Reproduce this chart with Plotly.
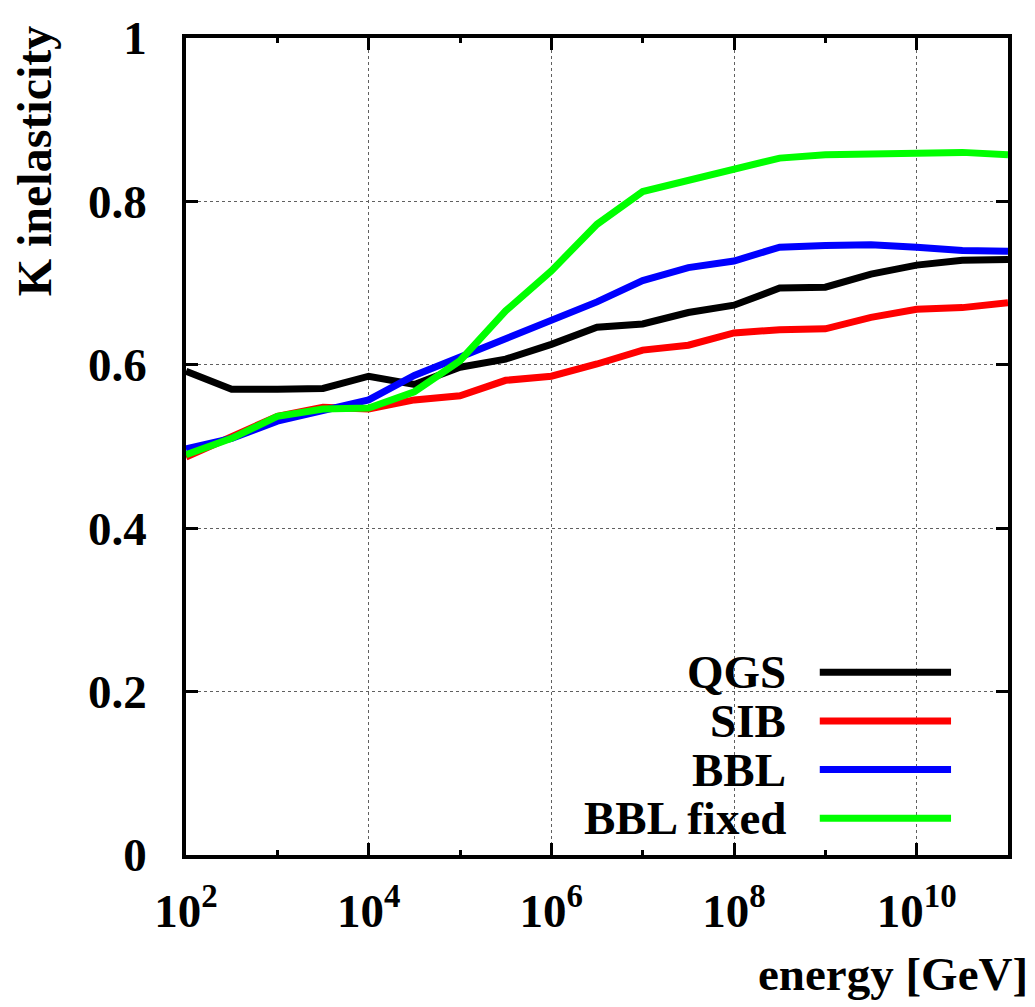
import plotly.graph_objects as go

# energies in GeV (half-decade steps)
log_energy = [2.0, 2.5, 3.0, 3.5, 4.0, 4.5, 5.0, 5.5, 6.0, 6.5, 7.0, 7.5, 8.0, 8.5, 9.0, 9.5, 10.0, 10.5, 11.0]
energy = [10 ** e for e in log_energy]

qgs = [0.592, 0.570, 0.570, 0.571, 0.586, 0.576, 0.597, 0.607, 0.625, 0.646, 0.650, 0.664, 0.673, 0.694, 0.695, 0.711, 0.722, 0.728, 0.729]
sib = [0.487, 0.512, 0.537, 0.548, 0.546, 0.557, 0.562, 0.581, 0.586, 0.601, 0.618, 0.624, 0.639, 0.643, 0.644, 0.658, 0.668, 0.670, 0.676]
bbl = [0.497, 0.510, 0.531, 0.543, 0.557, 0.587, 0.610, 0.632, 0.654, 0.677, 0.703, 0.719, 0.727, 0.744, 0.746, 0.747, 0.744, 0.740, 0.739]
bbl_fixed = [0.490, 0.510, 0.537, 0.546, 0.547, 0.567, 0.605, 0.666, 0.715, 0.772, 0.812, 0.826, 0.841, 0.853, 0.857, 0.858, 0.858, 0.860, 0.857]

series_names = ["QGS", "SIB", "BBL", "BBL fixed"]
series_values = [qgs, sib, bbl, bbl_fixed]
series_colors = ["#000000", "#ff0000", "#0000ff", "#00ff00"]

x_major_ticks = [1e2, 1e4, 1e6, 1e8, 1e10]
x_major_labels = ["10<sup>2</sup>", "10<sup>4</sup>", "10<sup>6</sup>", "10<sup>8</sup>", "10<sup>10</sup>"]
x_minor_ticks = [1e3, 1e5, 1e7, 1e9, 1e11]
y_ticks = [0, 0.2, 0.4, 0.6, 0.8, 1]
y_labels = ["0", "0.2", "0.4", "0.6", "0.8", "1"]

FONT = "Liberation Serif"
LW = 7

fig = go.Figure()
for name, vals, col in zip(series_names, series_values, series_colors):
    fig.add_trace(go.Scatter(x=energy, y=vals, mode="lines", name=name,
                             line=dict(color=col, width=LW), showlegend=False))

# legend box (white, hides grid)
fig.add_shape(type="rect", xref="paper", yref="paper", x0=0.411, x1=0.968, y0=0.0, y1=0.2515,
              fillcolor="white", line=dict(width=0), layer="between")

leg_y = [0.2236, 0.164, 0.1045, 0.045]
for name, col, yy in zip(series_names, series_colors, leg_y):
    fig.add_annotation(xref="paper", yref="paper", x=0.7324, y=yy, xanchor="right", yanchor="middle",
                       text=f"<b>{name}</b>", showarrow=False,
                       font=dict(family=FONT, size=47, color="black"))
    fig.add_shape(type="line", xref="paper", yref="paper", x0=0.771, x1=0.9307, y0=yy, y1=yy,
                  line=dict(color=col, width=LW), layer="above")

axis_common = dict(showline=True, linecolor="black", linewidth=3.5, mirror="ticks",
                   ticks="inside", tickcolor="black",
                   showgrid=True, gridcolor="#606060", gridwidth=1, griddash="dot",
                   zeroline=False,
                   tickfont=dict(family=FONT, size=47, color="black"))

fig.update_xaxes(type="log", range=[2, 11], tickvals=x_major_ticks,
                 ticktext=[f"<b>{t}</b>" for t in x_major_labels],
                 ticklen=12, tickwidth=3, ticklabelstandoff=12,
                 minor=dict(tickvals=x_minor_ticks, ticklen=5, tickwidth=3, tickcolor="black",
                            ticks="inside", showgrid=False),
                 **axis_common)
fig.update_yaxes(range=[0, 1], tickvals=y_ticks, ticktext=[f"<b>{t}</b>" for t in y_labels],
                 ticklen=12, tickwidth=3, ticklabelstandoff=26, **axis_common)

# axis titles
fig.add_annotation(xref="paper", yref="paper", x=1.027, y=-0.18, xanchor="right", yanchor="bottom",
                   text="<b>energy [GeV]</b>", showarrow=False,
                   font=dict(family=FONT, size=47, color="black"))
fig.add_annotation(xref="paper", yref="paper", x=-0.184, y=0.85, xanchor="center", yanchor="middle",
                   text="<b>K inelasticity</b>", showarrow=False, textangle=-90,
                   font=dict(family=FONT, size=48, color="black"))

fig.update_layout(width=1035, height=1007,
                  margin=dict(l=186, r=27, t=32, b=152),
                  plot_bgcolor="white", paper_bgcolor="white")

fig.write_html("out.html")
